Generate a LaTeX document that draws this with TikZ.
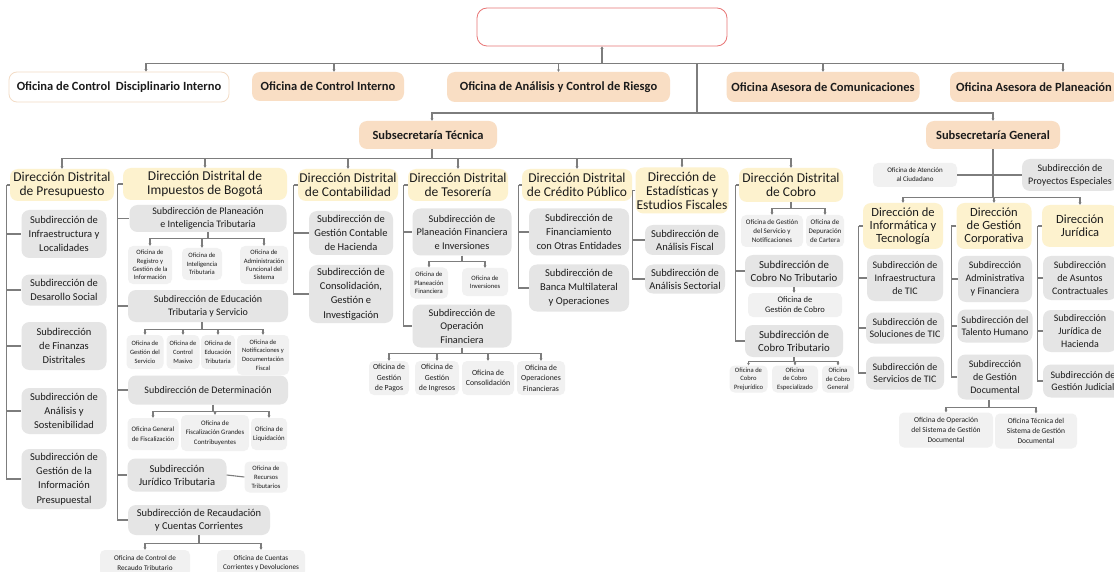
\documentclass[tikz,border=0pt]{standalone}
\usepackage{fontspec}
\setmainfont{Carlito}
\usetikzlibrary{arrows.meta,calc}
\definecolor{peach}{RGB}{249,222,196}
\definecolor{discb}{RGB}{243,220,198}
\definecolor{dirc}{RGB}{253,242,206}
\definecolor{subc}{RGB}{229,229,229}
\definecolor{ofc}{RGB}{241,241,241}
\definecolor{lc}{RGB}{125,125,125}
\definecolor{rootc}{RGB}{232,118,118}
\definecolor{txt}{RGB}{28,28,28}
\newcommand\bxn[6]{\node[#1,minimum width=#4,minimum height=#5] (#2) at #3 {#6};}
\newcommand\fs[2]{\fontsize{#1}{#2}\selectfont}
\begin{document}
\begin{tikzpicture}[x=1pt,y=-1pt,
 every node/.style={align=center,inner sep=0.5pt,text=txt},
 topbox/.style={fill=peach,rounded corners=8,font=\bfseries\fs{12.5}{14}},
 dirbox/.style={fill=dirc,rounded corners=8,font=\fs{13.5}{14}},
 dirg/.style={dirbox,font=\fs{12.5}{13.2}},
 subbox/.style={fill=subc,rounded corners=8},
 sA/.style={subbox,font=\fs{10.5}{14.2}},
 sB/.style={subbox,font=\fs{10}{12.8}},
 sC/.style={subbox,font=\fs{10.3}{13.5}},
 ofbox/.style={fill=ofc,rounded corners=5},
 ln/.style={draw=lc,line width=1.1},
 arr/.style={ln,-{Stealth[length=2.5,width=3]}},
]
\fill[white] (0,0) rectangle (1114,572);
\useasboundingbox (0,0) rectangle (1114,572);

% ---------- top levels
\node[draw=rootc,line width=0.8,fill=white,rounded corners=10,minimum width=250,minimum height=38] (root) at (602,27) {};
\bxn{topbox,fill=white,draw=discb,line width=0.8}{disc}{(119,87)}{220}{30}{Oficina de Control\ \ Disciplinario Interno}
\bxn{topbox}{ci}{(328,86.5)}{152}{29}{Oficina de Control Interno}
\bxn{topbox}{acr}{(558.5,87)}{223}{30}{Oficina de Análisis y Control de Riesgo}
\bxn{topbox}{com}{(823,87)}{193}{30}{Oficina Asesora de Comunicaciones}
\bxn{topbox}{pla}{(1034,87)}{168}{30}{Oficina Asesora de Planeación}
\bxn{topbox}{tec}{(428,135)}{138}{28}{Subsecretaría Técnica}
\bxn{topbox}{gen}{(993,135)}{134}{28}{Subsecretaría General}

% ---------- direcciones
\bxn{dirbox}{dp}{(62,185)}{104}{32}{Dirección Distrital\\de Presupuesto}
\bxn{dirbox}{di}{(205,184)}{164}{32}{Dirección Distrital de\\Impuestos de Bogotá}
\bxn{dirbox}{dc}{(348,185)}{100}{32}{Dirección Distrital\\de Contabilidad}
\bxn{dirbox}{dt}{(458,185)}{100}{32}{Dirección Distrital\\de Tesorería}
\bxn{dirbox}{dcp}{(577,185)}{110}{32}{Dirección Distrital\\de Crédito Público}
\bxn{dirbox}{de}{(682,190.5)}{93}{46}{Dirección de\\Estadísticas y\\Estudios Fiscales}
\bxn{dirbox}{dco}{(791,185)}{104}{34}{Dirección Distrital\\de Cobro}
\bxn{dirg}{dinf}{(903,226)}{80}{46}{Dirección de\\Informática y\\Tecnología}
\bxn{dirg}{dgc}{(994,226)}{75}{46}{Dirección\\de Gestión\\Corporativa}
\bxn{dirg}{djur}{(1080,226)}{76}{42}{Dirección\\Jurídica}

% ---------- Presupuesto
\bxn{sA}{p1}{(64,234)}{85}{48}{Subdirección de\\Infraestructura y\\Localidades}
\bxn{sA}{p2}{(64,290)}{85}{31}{Subdirección de\\Desarollo Social}
\bxn{sA}{p3}{(64,346)}{85}{48}{Subdirección\\de Finanzas\\Distritales}
\bxn{sA}{p4}{(64,411)}{85}{46}{Subdirección de\\Análisis y\\Sostenibilidad}
\bxn{sA}{p5}{(64,479)}{85}{60}{Subdirección de\\Gestión de la\\Información\\Presupuestal}

% ---------- Impuestos
\bxn{sB}{i1}{(208,218.5)}{157}{27}{Subdirección de Planeación\\e Inteligencia Tributaria}
\bxn{ofbox,font=\fs{6.6}{8.4}}{o11}{(150,265)}{44}{38}{Oficina de\\Registro y\\Gestión de la\\Información}
\bxn{ofbox,font=\fs{6.6}{8.4}}{o12}{(202,264)}{40}{32}{Oficina de\\Inteligencia\\Tributaria}
\bxn{ofbox,font=\fs{6.6}{8.4}}{o13}{(264,265)}{48}{38}{Oficina de\\Administración\\Funcional del\\Sistema}
\bxn{sB}{i2}{(208,306)}{160}{32}{Subdirección de Educación\\Tributaria y Servicio}
\bxn{ofbox,font=\fs{6.5}{8.8}}{o21}{(145,352)}{37}{34}{Oficina de\\Gestión del\\Servicio}
\bxn{ofbox,font=\fs{6.5}{8.8}}{o22}{(183,352)}{33}{34}{Oficina de\\Control\\Masivo}
\bxn{ofbox,font=\fs{6.5}{8.8}}{o23}{(218,352)}{34}{34}{Oficina de\\Educación\\Tributaria}
\bxn{ofbox,font=\fs{6.5}{8.8}}{o24}{(263,355)}{52}{40}{Oficina de\\Notificaciones y\\Documentación\\Fiscal}
\bxn{sB}{i3}{(208,390)}{160}{29}{Subdirección de Determinación}
\bxn{ofbox,font=\fs{6.8}{9.5}}{o31}{(153,434)}{51}{32}{Oficina General\\de Fiscalización}
\bxn{ofbox,font=\fs{6.8}{9.5}}{o32}{(215,433)}{68}{36}{Oficina de\\Fiscalización Grandes\\Contribuyentes}
\bxn{ofbox,font=\fs{6.8}{9.5}}{o33}{(269,434)}{36}{32}{Oficina de\\Liquidación}
\bxn{sB,font=\fs{10.5}{13}}{i4}{(177,475)}{99}{33}{Subdirección\\Jurídico Tributaria}
\bxn{ofbox,font=\fs{6.6}{9}}{o41}{(266,477)}{43}{31}{Oficina de\\Recursos\\Tributarios}
\bxn{sB,font=\fs{10.5}{13.3}}{i5}{(199,520)}{142}{30}{Subdirección de Recaudación\\y Cuentas Corrientes}
\bxn{ofbox,font=\fs{7.2}{9.5}}{o51}{(145,563)}{90}{26}{Oficina de Control de\\Recaudo Tributario}
\bxn{ofbox,font=\fs{7.2}{9.5}}{o52}{(261,563)}{88}{26}{Oficina de Cuentas\\Corrientes y Devoluciones}

% ---------- Contabilidad
\bxn{sA}{c1}{(351,233)}{84}{44}{Subdirección de\\Gestión Contable\\de Hacienda}
\bxn{sA}{c2}{(351,294)}{84}{58}{Subdirección de\\Consolidación,\\Gestión e\\Investigación}

% ---------- Tesorería
\bxn{sC}{t1}{(462,232)}{99}{47}{Subdirección de\\Planeación Financiera\\e Inversiones}
\bxn{ofbox,font=\fs{6.6}{8.5}}{ot1}{(429,283)}{38}{31}{Oficina de\\Planeación\\Financiera}
\bxn{ofbox,font=\fs{6.6}{8.5}}{ot2}{(485,282)}{46}{28}{Oficina de\\Inversiones}
\bxn{sC}{t2}{(462,326)}{99}{43}{Subdirección de\\Operación\\Financiera}
\bxn{ofbox,font=\fs{7.8}{10.5}}{ot3}{(389,378)}{40}{34}{Oficina de\\Gestión\\de Pagos}
\bxn{ofbox,font=\fs{7.8}{10.5}}{ot4}{(437,378)}{44}{34}{Oficina de\\Gestión\\de Ingresos}
\bxn{ofbox,font=\fs{7.8}{10.5}}{ot5}{(488,378)}{52}{34}{Oficina de\\Consolidación}
\bxn{ofbox,font=\fs{7.8}{10.5}}{ot6}{(541,378)}{48}{34}{Oficina de\\Operaciones\\Financieras}

% ---------- Crédito Público
\bxn{sA}{cp1}{(579,232)}{100}{47}{Subdirección de\\Financiamiento\\con Otras Entidades}
\bxn{sA}{cp2}{(579,288)}{100}{47}{Subdirección de\\Banca Multilateral\\y Operaciones}

% ---------- Estadísticas
\bxn{sA,font=\fs{10.5}{12.8}}{e1}{(685,240)}{80}{30}{Subdirección de\\Análisis Fiscal}
\bxn{sA,font=\fs{10.5}{12.8}}{e2}{(685,279)}{80}{29}{Subdirección de\\Análisis Sectorial}

% ---------- Cobro
\bxn{ofbox,font=\fs{7}{8.8}}{oc1}{(772,231)}{62}{32}{Oficina de Gestión\\del Servicio y\\Notificaciones}
\bxn{ofbox,font=\fs{7}{8.8}}{oc2}{(825,231)}{38}{32}{Oficina de\\Depuración\\de Cartera}
\bxn{sA,font=\fs{10.8}{13}}{co1}{(794,271)}{98}{32}{Subdirección de\\Cobro No Tributario}
\bxn{ofbox,font=\fs{8.5}{10}}{oc3}{(795,305)}{94}{24}{Oficina de\\Gestión de Cobro}
\bxn{sA,font=\fs{10.8}{13}}{co2}{(794,341)}{98}{32}{Subdirección de\\Cobro Tributario}
\bxn{ofbox,font=\fs{6.6}{8.4}}{oc4}{(748.5,379)}{38}{27}{Oficina de\\Cobro\\Prejurídico}
\bxn{ofbox,font=\fs{6.6}{8.4}}{oc5}{(795,379)}{46}{27}{Oficina\\de Cobro\\Especializado}
\bxn{ofbox,font=\fs{6.6}{8.4}}{oc6}{(838,379)}{32}{27}{Oficina\\de Cobro\\General}

% ---------- Subsecretaría General
\bxn{ofbox,font=\fs{7}{9}}{ate}{(915,175)}{84}{24}{Oficina de Atención\\al Ciudadano}
\bxn{sB}{pro}{(1070,175)}{96}{32}{Subdirección de\\Proyectos Especiales}
\bxn{sB}{ti1}{(905,278)}{76}{46}{Subdirección de\\Infraestructura\\de TIC}
\bxn{sB}{ti2}{(905,328)}{78}{31}{Subdirección de\\Soluciones de TIC}
\bxn{sB}{ti3}{(905,373)}{78}{33}{Subdirección de\\Servicios de TIC}
\bxn{sB}{gc1}{(995,279)}{74}{46}{Subdirección\\Administrativa\\y Financiera}
\bxn{sB}{gc2}{(995,326)}{75}{33}{Subdirección del\\Talento Humano}
\bxn{sB}{gc3}{(995,377)}{75}{45}{Subdirección\\de Gestión\\Documental}
\bxn{ofbox,font=\fs{7.5}{10.3}}{og1}{(946,430)}{94}{35}{Oficina de Operación\\del Sistema de Gestión\\Documental}
\bxn{ofbox,font=\fs{7.5}{10.3}}{og2}{(1036,431)}{82}{35}{Oficina Técnica del\\Sistema de Gestión\\Documental}
\bxn{sB}{ju1}{(1080,278)}{74}{44}{Subdirección\\de Asuntos\\Contractuales}
\bxn{sB}{ju2}{(1080,331)}{74}{42}{Subdirección\\Jurídica de\\Hacienda}
\bxn{sB}{ju3}{(1083,381)}{80}{33}{Subdirección de\\Gestión Judicial}

% ================= connectors
\draw[ln,{Stealth[length=2.5,width=3]}-] (root.south) -- ++(0,17) coordinate (b1);
\draw[arr] (b1) -| ([xshift=27]disc.north);
\draw[arr] (b1) -| ([xshift=6]ci.north);
\draw[arr] (b1) -| (acr.north);
\draw[arr] (b1) -| (com.north);
\draw[arr] (b1) -| ([xshift=29]pla.north);
\coordinate (j2) at (697,113);
\draw[ln] (b1) -| (j2);
\draw[arr] (j2) -| ([xshift=4]tec.north);
\draw[arr] (j2) -| (gen.north);

% Técnica bus
\draw[ln] ([xshift=4]tec.south) -- ++(0,9) coordinate (b3);
\foreach \n in {dp,di,dc,dt,dcp,de,dco} \draw[arr] (b3) -| (\n.north);

% brackets
\draw[ln] (dp.west) -- ++(-3,0) coordinate (kp);
\foreach \c in {p1,p2,p3,p4,p5} \draw[ln] (kp) |- (\c.west);
\draw[ln] (di.west) -- ++(-5,0) coordinate (ki);
\foreach \c in {i1,i2,i3,i4,i5} \draw[ln] (ki) |- (\c.west);
\draw[ln] (dc.west) -- ++(-4,0) coordinate (kc);
\foreach \c in {c1,c2} \draw[ln] (kc) |- (\c.west);
\draw[ln] (dt.west) -- ++(-4,0) coordinate (kt);
\foreach \c in {t1,t2} \draw[ln] (kt) |- (\c.west);
\draw[ln] (dcp.west) -- ++(-3,0) coordinate (kcp);
\foreach \c in {cp1,cp2} \draw[ln] (kcp) |- (\c.west);
\draw[ln] (de.west) -- ++(-3,0) coordinate (ke);
\foreach \c in {e1,e2} \draw[ln] (ke) |- (\c.west);
\draw[ln] (dco.west) -- ++(-3,0) coordinate (kco);
\foreach \c in {co1,co2} \draw[ln] (kco) |- (\c.west);
\draw[ln] (dinf.west) -- ++(-4,0) coordinate (kinf);
\foreach \c in {ti1,ti2,ti3} \draw[ln] (kinf) |- (\c.west);
\draw[ln] (dgc.west) -- ++(-5,0) coordinate (kgc);
\foreach \c in {gc1,gc2,gc3} \draw[ln] (kgc) |- (\c.west);
\draw[ln] (djur.west) -- ++(-4,0) coordinate (kjur);
\foreach \c in {ju1,ju2,ju3} \draw[ln] (kjur) |- (\c.west);

% sub-buses
\draw[ln] (i1.south) -- ++(0,6) coordinate (bi1);
\foreach \c in {o11,o12,o13} \draw[arr] (bi1) -| (\c.north);
\draw[ln] ([xshift=-6]i2.south) -- ++(0,7) coordinate (bi2);
\foreach \c in {o21,o22,o23,o24} \draw[arr] (bi2) -| (\c.north);
\draw[ln] ([xshift=5]i3.south) -- ++(0,7) coordinate (bi3);
\foreach \c in {o31,o32,o33} \draw[arr] (bi3) -| (\c.north);
\draw[ln] (i4.east) -- (o41.west);
\draw[ln] (i5.south) -- ++(0,8) coordinate (bi5);
\foreach \c in {o51,o52} \draw[arr] (bi5) -| (\c.north);
\draw[ln] (t1.south) -- ++(0,6) coordinate (bt1);
\foreach \c in {ot1,ot2} \draw[arr] (bt1) -| (\c.north);
\draw[ln] (t2.south) -- ++(0,6) coordinate (bt2);
\foreach \c in {ot3,ot4,ot5,ot6} \draw[arr] (bt2) -| (\c.north);
\draw[ln] (dco.south) -- ++(0,6) coordinate (bco);
\foreach \c in {oc1,oc2} \draw[arr] (bco) -| (\c.north);
\draw[arr] (co1.south) -- (co1.south |- oc3.north);
\draw[ln] (co2.south) -- ++(0,4) coordinate (bco2);
\foreach \c in {oc4,oc5,oc6} \draw[arr] (bco2) -| (\c.north);

% Subsecretaría General
\draw[ln] (gen.south) -- ++(0,48) coordinate (bg);
\draw[ln] (ate.east) -- (pro.west);
\foreach \n in {dinf,dgc,djur} \draw[arr] (bg) -| (\n.north);
\draw[ln] ([xshift=-6]gc3.south) -- ++(0,8) coordinate (bgc);
\foreach \c in {og1,og2} \draw[arr] (bgc) -| (\c.north);
\end{tikzpicture}
\end{document}
